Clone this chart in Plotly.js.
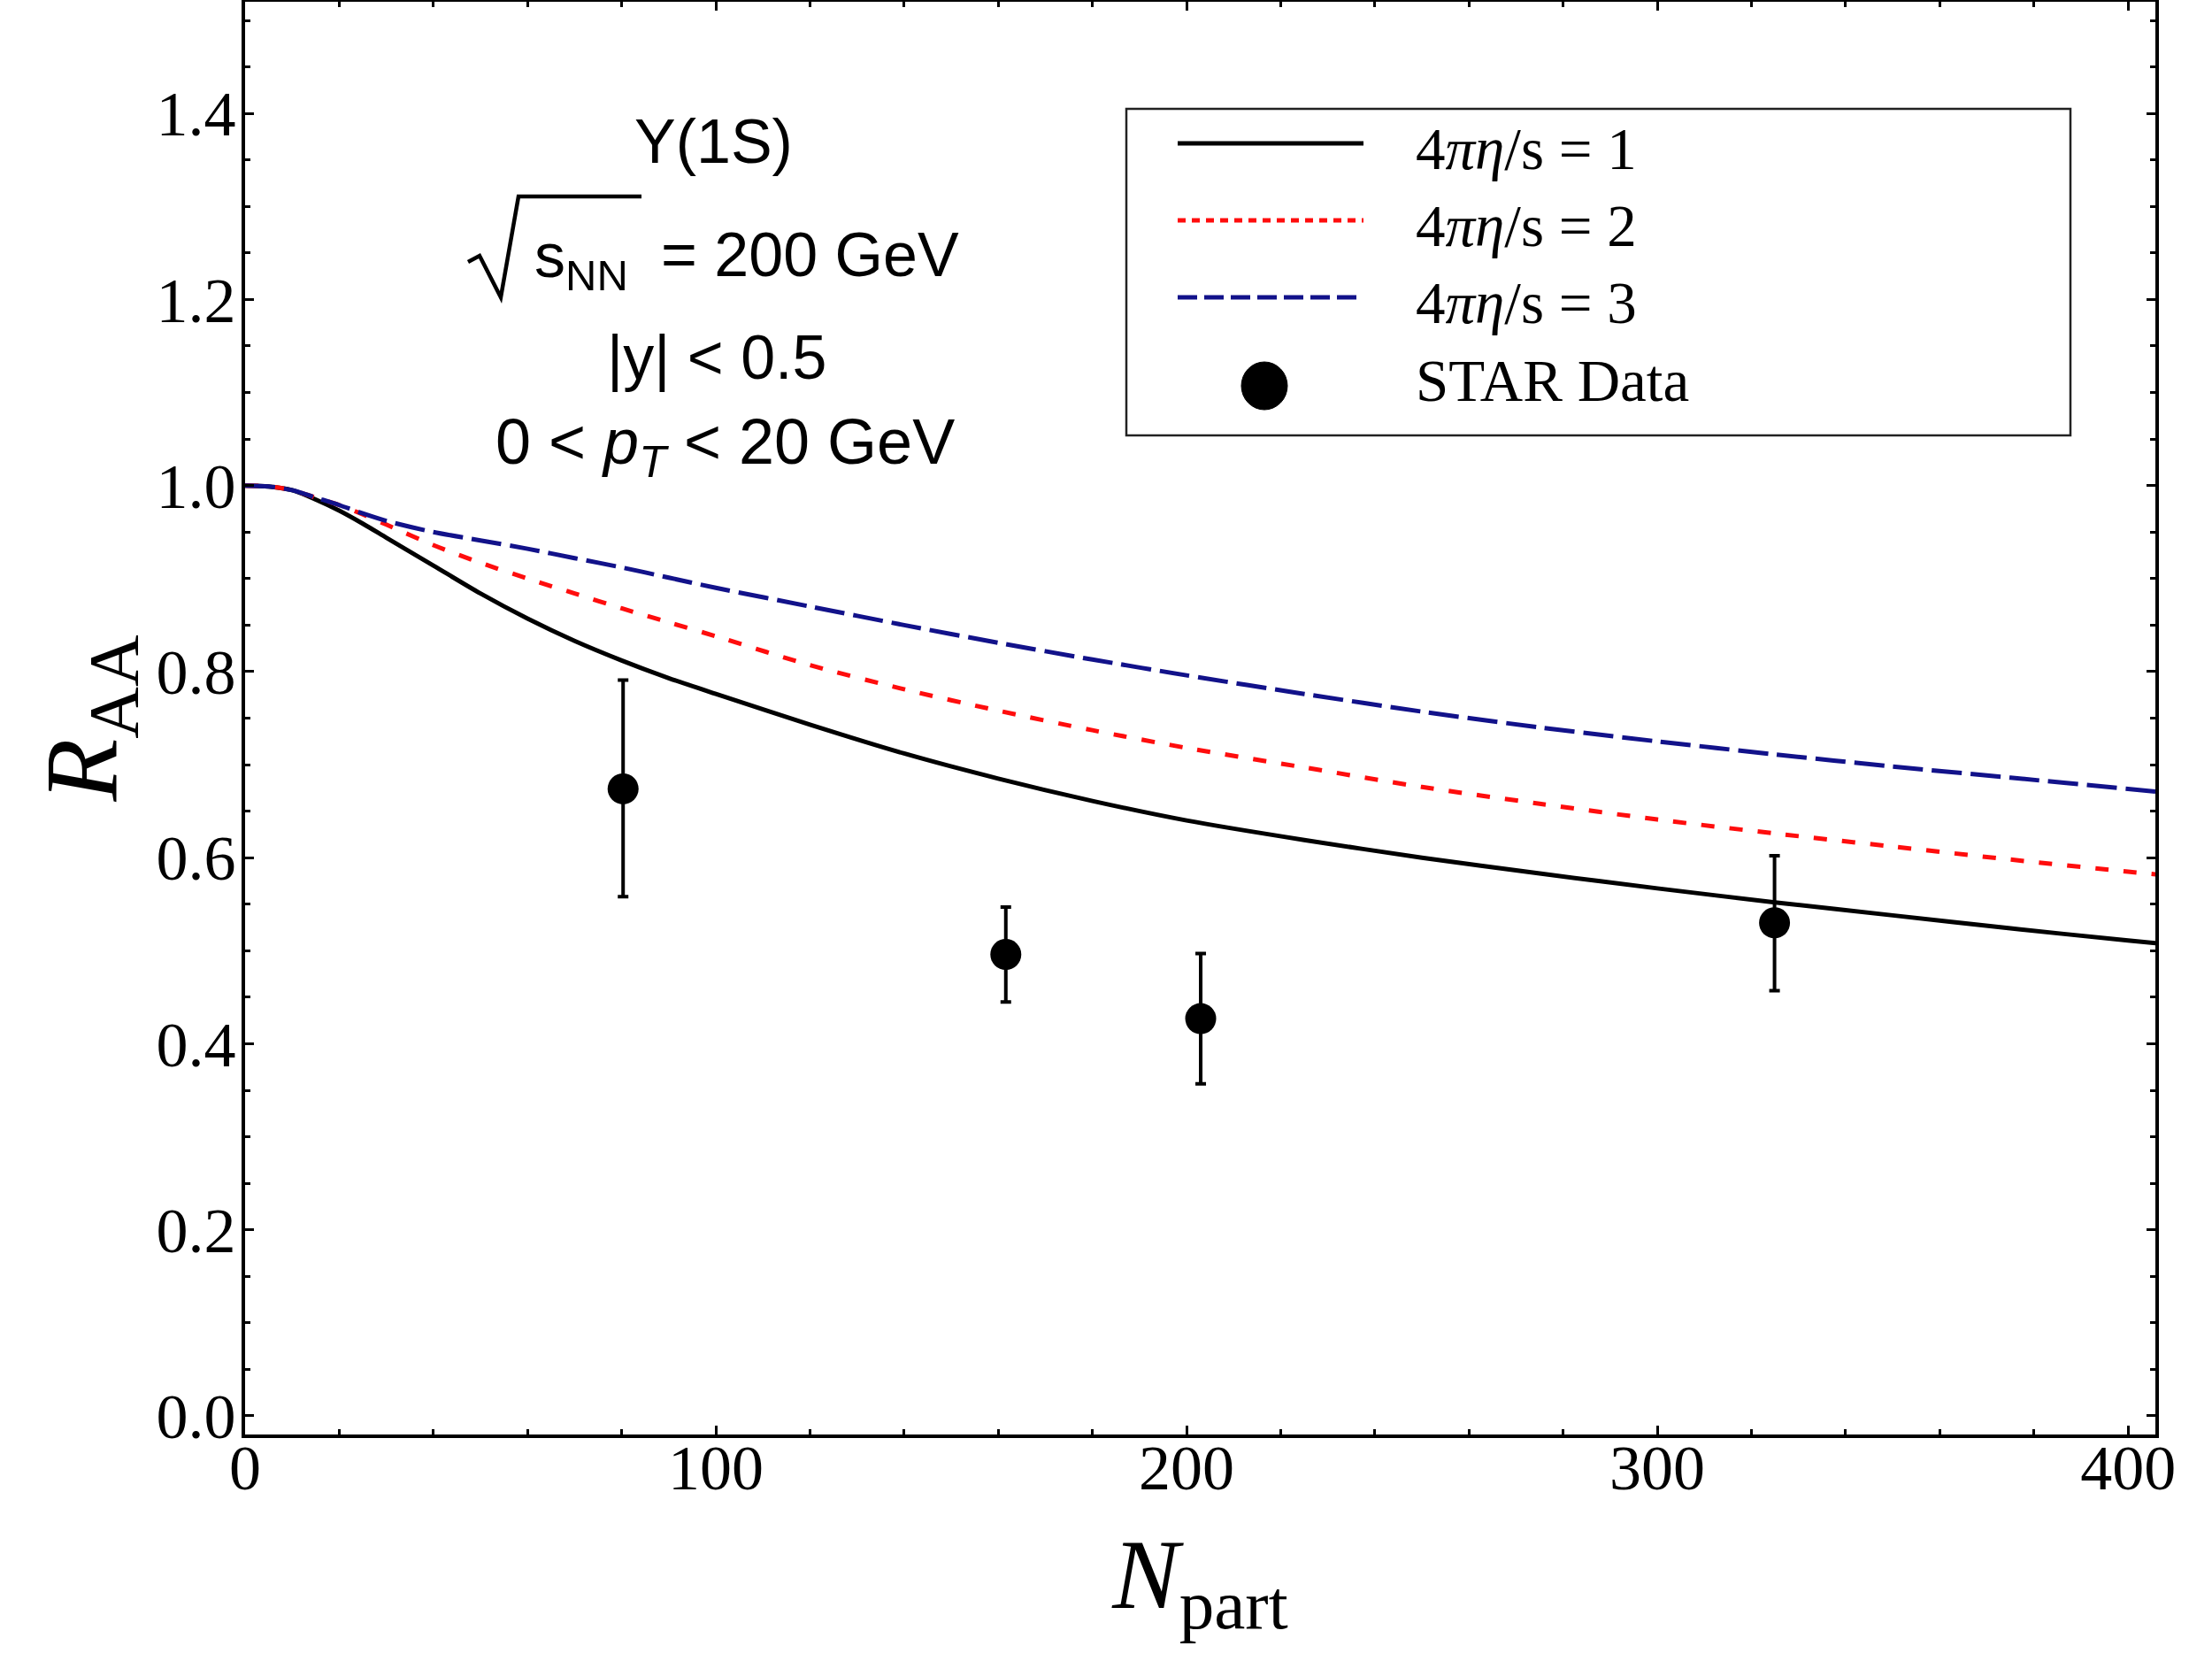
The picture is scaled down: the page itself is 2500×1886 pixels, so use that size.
<!DOCTYPE html>
<html>
<head>
<meta charset="utf-8">
<script src="https://cdn.plot.ly/plotly-3.0.1.min.js"></script>
<style>
  html, body { margin: 0; padding: 0; background: #ffffff; }
  #chart { width: 2500px; height: 1886px; }
</style>
</head>
<body>
<div id="chart"></div>
<script>
// Model curves: nuclear modification factor vs number of participants
const nPart   = [0, 5, 10, 15, 20, 25, 30, 40, 50, 60, 70, 80, 90, 100, 120, 140, 160, 180, 200, 225, 250, 275, 300, 325, 350, 375, 400, 406];
const raaEta1 = [1.000, 0.999, 0.995, 0.985, 0.973, 0.959, 0.944, 0.914, 0.884, 0.857, 0.833, 0.812, 0.793, 0.776, 0.743, 0.712, 0.685, 0.661, 0.640, 0.619, 0.600, 0.583, 0.567, 0.552, 0.538, 0.524, 0.511, 0.508];
const raaEta2 = [1.000, 0.999, 0.995, 0.987, 0.979, 0.969, 0.958, 0.936, 0.917, 0.900, 0.884, 0.868, 0.853, 0.838, 0.807, 0.781, 0.758, 0.737, 0.718, 0.697, 0.676, 0.658, 0.641, 0.626, 0.612, 0.598, 0.585, 0.582];
const raaEta3 = [1.000, 0.999, 0.995, 0.987, 0.979, 0.970, 0.962, 0.950, 0.941, 0.932, 0.922, 0.912, 0.901, 0.890, 0.870, 0.850, 0.831, 0.813, 0.796, 0.776, 0.757, 0.740, 0.725, 0.711, 0.698, 0.686, 0.674, 0.671];

// STAR measurement
const starNpart     = [80.3, 161.6, 203.0, 324.9];
const starRaa       = [0.674, 0.496, 0.427, 0.530];
const starErrPlus   = [0.117, 0.051, 0.070, 0.072];
const starErrMinus  = [0.116, 0.051, 0.070, 0.073];

// Legend and axis labels
const seriesNames = ['4<i>π</i><i>η</i>/s = 1', '4<i>π</i><i>η</i>/s = 2', '4<i>π</i><i>η</i>/s = 3', 'STAR Data'];
const xTitle = '<i>N</i><sub>part</sub>';
const yTitle = '<i>R</i><sub>AA</sub>';
const infoLines = ['Υ(1S)', 's<sub>NN</sub>', '= 200 GeV', '|y| &lt; 0.5', '0 &lt; <i>p</i><sub><i>T</i></sub> &lt; 20 GeV'];

// Page geometry
const W = 2500, H = 1886;
const M = { l: 277, r: 64, t: 2, b: 265 };
const PW = W - M.l - M.r, PH = H - M.t - M.b;
const px = x => (x - M.l) / PW;          // page pixel -> paper x
const py = y => (H - M.b - y) / PH;      // page pixel -> paper y

const black = '#000000';
const red = '#ff0d0d';
const navy = '#12128a';
const serif = 'Liberation Serif, Times New Roman, serif';
const sans = 'Liberation Sans, Arial, sans-serif';

const traces = [
  { x: nPart, y: raaEta1, mode: 'lines', name: seriesNames[0], showlegend: false,
    line: { color: black, width: 5, shape: 'spline', smoothing: 0.8 } },
  { x: nPart, y: raaEta2, mode: 'lines', name: seriesNames[1], showlegend: false,
    line: { color: red, width: 5, dash: '15px,17px', shape: 'spline', smoothing: 0.8 } },
  { x: nPart, y: raaEta3, mode: 'lines', name: seriesNames[2], showlegend: false,
    line: { color: navy, width: 5, dash: '34px,10px', shape: 'spline', smoothing: 0.8 } },
  { x: starNpart, y: starRaa, mode: 'markers', name: seriesNames[3], showlegend: false,
    marker: { size: 35, color: black },
    error_y: { type: 'data', symmetric: false, array: starErrPlus, arrayminus: starErrMinus,
               color: black, thickness: 4, width: 6 } }
];

// Hand-built legend box (long line samples)
const legRows = [162, 249, 336, 436];
const legLineX0 = 1331, legLineX1 = 1541, legTextX = 1598;
const legendStyles = [
  { color: black, dash: 'solid', width: 5 },
  { color: red, dash: '9px,7px', width: 5 },
  { color: navy, dash: '22px,8px', width: 5 }
];

const shapes = [
  { type: 'rect', xref: 'paper', yref: 'paper', x0: px(1273), x1: px(2340), y0: py(492), y1: py(123),
    line: { color: '#222222', width: 2.5 }, fillcolor: 'rgba(0,0,0,0)' }
];
legendStyles.forEach((s, i) => {
  shapes.push({ type: 'line', xref: 'paper', yref: 'paper',
    x0: px(legLineX0), x1: px(legLineX1), y0: py(legRows[i]), y1: py(legRows[i]),
    line: { color: s.color, width: s.width, dash: s.dash } });
});
shapes.push({ type: 'circle', xref: 'paper', yref: 'paper',
  x0: px(1429 - 26), x1: px(1429 + 26), y0: py(legRows[3] + 27), y1: py(legRows[3] - 27),
  fillcolor: black, line: { color: black, width: 1 } });

// Radical sign over s_NN
const rad = [[529, 296], [542, 289], [566, 336], [586, 222], [725, 222]];
shapes.push({ type: 'path', xref: 'paper', yref: 'paper',
  path: 'M' + rad.map(p => px(p[0]).toFixed(5) + ',' + py(p[1]).toFixed(5)).join(' L'),
  line: { color: black, width: 4.5 } });

const annotations = [];
seriesNames.forEach((t, i) => {
  annotations.push({ xref: 'paper', yref: 'paper', x: px(legTextX), y: py(legRows[i] + (i < 3 ? 6 : -6)),
    xanchor: 'left', yanchor: 'middle', showarrow: false, text: t,
    font: { family: serif, size: 67, color: black } });
});
const infoFont = { family: sans, size: 70, color: black };
annotations.push({ xref: 'paper', yref: 'paper', x: px(806), y: py(160), xanchor: 'center', yanchor: 'middle',
  showarrow: false, text: infoLines[0], font: infoFont });
annotations.push({ xref: 'paper', yref: 'paper', x: px(602), y: py(294), xanchor: 'left', yanchor: 'middle',
  showarrow: false, text: infoLines[1], font: infoFont });
annotations.push({ xref: 'paper', yref: 'paper', x: px(745), y: py(288), xanchor: 'left', yanchor: 'middle',
  showarrow: false, text: infoLines[2], font: infoFont });
annotations.push({ xref: 'paper', yref: 'paper', x: px(810), y: py(404), xanchor: 'center', yanchor: 'middle',
  showarrow: false, text: infoLines[3], font: infoFont });
annotations.push({ xref: 'paper', yref: 'paper', x: px(819), y: py(504), xanchor: 'center', yanchor: 'middle',
  showarrow: false, text: infoLines[4], font: { family: sans, size: 72, color: black } });

const axisCommon = {
  ticks: 'inside', ticklen: 10, tickwidth: 3, tickcolor: black,
  showline: true, linewidth: 4, linecolor: black, mirror: 'allticks',
  showgrid: false, zeroline: false,
  tickfont: { family: serif, size: 72, color: black }
};

const layout = {
  width: W, height: H,
  margin: M,
  paper_bgcolor: '#ffffff', plot_bgcolor: '#ffffff',
  showlegend: false,
  xaxis: Object.assign({}, axisCommon, {
    range: [0, 405.8], tick0: 0, dtick: 100, ticklabelstandoff: -28,
    minor: { dtick: 20, ticks: 'inside', ticklen: 6, tickwidth: 3, tickcolor: black, showgrid: false },
    title: { text: xTitle, standoff: 40, font: { family: serif, size: 113, color: black } }
  }),
  yaxis: Object.assign({}, axisCommon, {
    range: [-0.02, 1.52], tick0: 0, dtick: 0.2, tickformat: '.1f', ticklabelstandoff: -8,
    minor: { dtick: 0.05, ticks: 'inside', ticklen: 6, tickwidth: 3, tickcolor: black, showgrid: false },
    title: { text: yTitle, standoff: 6, font: { family: serif, size: 116, color: black } }
  }),
  shapes: shapes,
  annotations: annotations
};

Plotly.newPlot('chart', traces, layout, { staticPlot: true, displayModeBar: false });
</script>
</body>
</html>
